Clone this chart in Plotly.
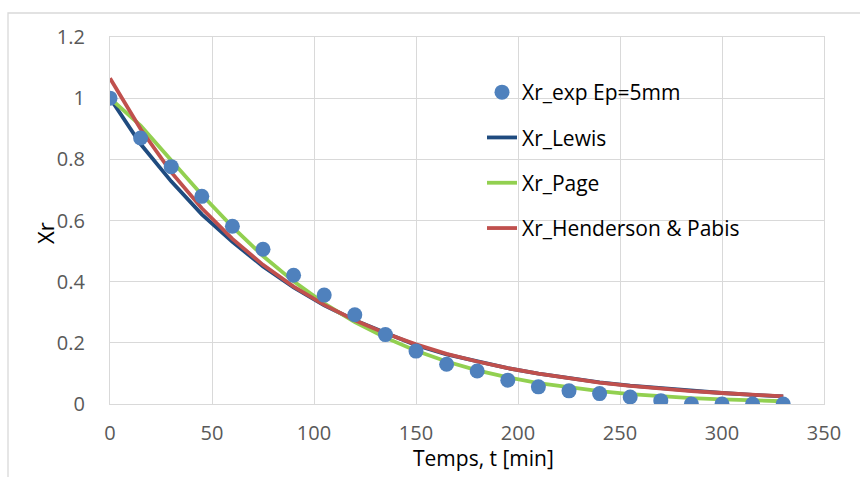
import plotly.graph_objects as go

# Drying time [min]
temps = [0, 15, 30, 45, 60, 75, 90, 105, 120, 135, 150, 165,
         180, 195, 210, 225, 240, 255, 270, 285, 300, 315, 330]

# Experimental reduced moisture ratio, slab thickness 5 mm
xr_exp = [1.000, 0.870, 0.776, 0.679, 0.581, 0.506, 0.421, 0.356, 0.292, 0.227, 0.173, 0.130,
          0.108, 0.078, 0.056, 0.043, 0.034, 0.023, 0.011, 0.000, 0.000, 0.000, 0.000]

# Fitted thin-layer drying models
xr_lewis = [1.000, 0.850, 0.728, 0.620, 0.530, 0.450, 0.381, 0.323, 0.274, 0.232, 0.192, 0.162,
            0.138, 0.117, 0.099, 0.084, 0.071, 0.060, 0.051, 0.043, 0.036, 0.030, 0.025]
xr_page = [1.000, 0.910, 0.797, 0.684, 0.579, 0.484, 0.401, 0.329, 0.268, 0.217, 0.174, 0.139,
           0.110, 0.087, 0.068, 0.054, 0.042, 0.032, 0.025, 0.019, 0.015, 0.011, 0.009]
xr_henderson = [1.065, 0.899, 0.758, 0.640, 0.540, 0.455, 0.384, 0.324, 0.274, 0.231, 0.195, 0.164,
                0.139, 0.117, 0.099, 0.083, 0.070, 0.059, 0.050, 0.042, 0.036, 0.030, 0.025]

x_ticks = [0, 50, 100, 150, 200, 250, 300, 350]
y_ticks = [0, 0.2, 0.4, 0.6, 0.8, 1.0, 1.2]

FONT = "Open Sans"
GRID = "#d9d9d9"

fig = go.Figure()

fig.add_trace(go.Scatter(x=temps, y=xr_lewis, mode="lines", name="Xr_Lewis",
                         line=dict(color="#1f4b7f", width=3.8), legendrank=2, legendgroup="b"))
fig.add_trace(go.Scatter(x=temps, y=xr_page, mode="lines", name="Xr_Page",
                         line=dict(color="#92d050", width=3.8), legendrank=3, legendgroup="c"))
fig.add_trace(go.Scatter(x=temps, y=xr_henderson, mode="lines", name="Xr_Henderson & Pabis",
                         line=dict(color="#c0504d", width=3.8), legendrank=4, legendgroup="d"))
fig.add_trace(go.Scatter(x=temps, y=xr_exp, mode="markers", name="Xr_exp Ep=5mm",
                         marker=dict(color="#4f81bd", size=15), legendrank=1, legendgroup="a"))

axis_common = dict(showgrid=True, gridcolor=GRID, gridwidth=1.3,
                   showline=True, linecolor=GRID, linewidth=1.3, mirror=True,
                   zeroline=False, ticks="",
                   tickfont=dict(family=FONT, size=20, color="#595959"))

fig.update_xaxes(range=[0, 350], tickvals=x_ticks, ticklabelstandoff=11, **axis_common)
fig.update_yaxes(range=[0, 1.2], tickvals=y_ticks, ticktext=[f"{v:g}" for v in y_ticks],
                 ticklabelstandoff=20, **axis_common)

# outer chart frame
fig.add_shape(type="rect", xref="paper", yref="paper",
              x0=(8 - 110) / 714, x1=1.3, y0=-0.4, y1=(404 - 13) / 367,
              line=dict(color=GRID, width=1.3), fillcolor="rgba(0,0,0,0)", layer="below")
# white panel behind the legend
fig.add_shape(type="rect", xref="paper", yref="paper",
              x0=(400 - 110) / 714, x1=(802 - 110) / 714,
              y0=(404 - 252) / 367, y1=(404 - 70) / 367,
              line=dict(width=0), fillcolor="white", layer="between")

fig.add_annotation(text="Temps, t [min]", xref="paper", yref="paper",
                   x=(483 - 110) / 714, y=(404 - 458) / 367, showarrow=False,
                   xanchor="center", yanchor="middle",
                   font=dict(family=FONT, size=21, color="black"))
fig.add_annotation(text="Xr", xref="paper", yref="paper",
                   x=(45 - 110) / 714, y=(404 - 233) / 367, showarrow=False, textangle=-90,
                   xanchor="center", yanchor="middle",
                   font=dict(family=FONT, size=22, color="black"))

fig.update_layout(
    width=860, height=477,
    margin=dict(l=110, r=36, t=37, b=73),
    paper_bgcolor="white", plot_bgcolor="white",
    showlegend=True,
    legend=dict(x=(482 - 110) / 714, y=(404 - 72) / 367, xanchor="left", yanchor="top",
                bgcolor="rgba(0,0,0,0)", traceorder="grouped", tracegroupgap=15,
                font=dict(family=FONT, size=21, color="black")),
)

fig.write_html("out.html")
